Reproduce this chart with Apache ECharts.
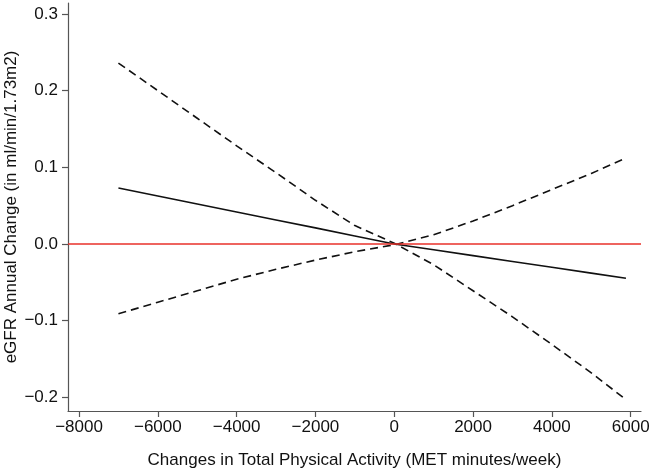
<!DOCTYPE html>
<html>
<head>
<meta charset="utf-8">
<script src="https://cdn.jsdelivr.net/npm/echarts@6/dist/echarts.min.js"></script>
<style>
html,body{margin:0;padding:0;background:#fff;}
#chart{width:652px;height:472px;}
</style>
</head>
<body>
<div id="chart"></div>
<script>
const xValues = [-7000, -6000, -5000, -4000, -3000, -2000, -1000, 0, 1000, 2000, 3000, 4000, 5000, 5880];
const estimate = [0.0730, 0.0626, 0.0522, 0.0418, 0.0314, 0.0210, 0.0105, 0.0000, -0.0076, -0.0152, -0.0228, -0.0304, -0.0380, -0.0447];
const ciA = [0.236, 0.200, 0.164, 0.128, 0.093, 0.057, 0.024, 0.001, -0.027, -0.061, -0.095, -0.131, -0.168, -0.203];
const ciB = [-0.091, -0.076, -0.061, -0.046, -0.033, -0.021, -0.010, -0.001, 0.012, 0.030, 0.050, 0.071, 0.092, 0.112];
const xTicks = [-8000, -6000, -4000, -2000, 0, 2000, 4000, 6000];
const yTicks = [-0.2, -0.1, 0.0, 0.1, 0.2, 0.3];

const zip = (xs, ys) => xs.map((x, i) => [x, ys[i]]);
const FONT = '"Liberation Sans", Arial, Helvetica, sans-serif';
const minus = s => String(s).replace('-', '\u2212');

const chart = echarts.init(document.getElementById('chart'), null, {renderer: 'canvas'});
chart.setOption({
  animation: false,
  backgroundColor: '#fff',
  grid: {left: 68, right: 11, top: 3, bottom: 61, containLabel: false, outerBoundsMode: 'none'},
  xAxis: {
    type: 'value',
    min: -8280, max: 6262,
    name: 'Changes in Total Physical Activity (MET minutes/week)',
    nameLocation: 'middle', nameGap: 41, nameMoveOverlap: false,
    nameTextStyle: {fontFamily: FONT, fontSize: 17, color: '#111'},
    axisLine: {show: true, onZero: false, lineStyle: {color: '#555', width: 1.2}},
    axisTick: {show: true, length: 6, lineStyle: {color: '#555', width: 1.2}, customValues: xTicks},
    axisLabel: {fontFamily: FONT, fontSize: 17, color: '#111', margin: 8, customValues: xTicks,
      formatter: v => minus(v)},
    splitLine: {show: false}
  },
  yAxis: {
    type: 'value',
    min: -0.2178, max: 0.3143,
    name: 'eGFR Annual Change (in ml/min/1.73m2)',
    nameLocation: 'middle', nameGap: 48, nameRotate: 90, nameMoveOverlap: false,
    nameTextStyle: {fontFamily: FONT, fontSize: 17, color: '#111'},
    axisLine: {show: true, onZero: false, lineStyle: {color: '#555', width: 1.2}},
    axisTick: {show: true, length: 6, lineStyle: {color: '#555', width: 1.2}, customValues: yTicks},
    axisLabel: {fontFamily: FONT, fontSize: 17, color: '#111', margin: 10, customValues: yTicks,
      formatter: v => minus(Number(v).toFixed(1))},
    splitLine: {show: false}
  },
  series: [
    {
      type: 'line', data: [], silent: true, z: 1,
      markLine: {
        silent: true, symbol: 'none', label: {show: false},
        lineStyle: {color: '#e8302a', width: 1.6, type: 'solid'},
        data: [{yAxis: 0}]
      }
    },
    {
      type: 'line', data: zip(xValues, estimate), showSymbol: false, z: 3,
      lineStyle: {color: '#111', width: 1.6}
    },
    {
      type: 'line', data: zip(xValues, ciA), showSymbol: false, z: 3,
      lineStyle: {color: '#111', width: 1.6, type: [8, 5]}
    },
    {
      type: 'line', data: zip(xValues, ciB), showSymbol: false, z: 3,
      lineStyle: {color: '#111', width: 1.6, type: [8, 5]}
    }
  ]
});
</script>
</body>
</html>
